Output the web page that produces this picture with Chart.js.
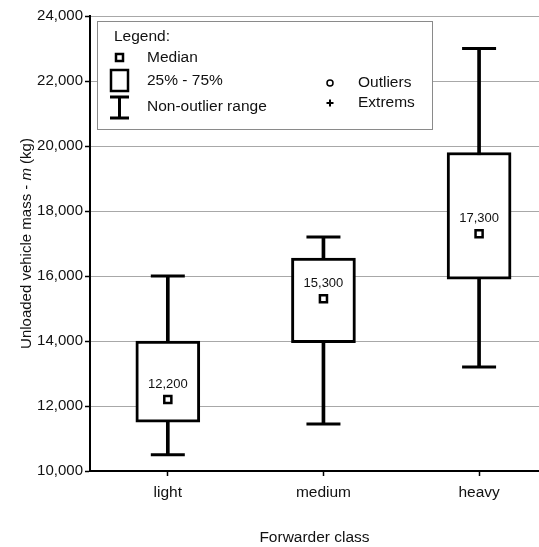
<!DOCTYPE html>
<html>
<head>
<meta charset="utf-8">
<script src="https://cdn.jsdelivr.net/npm/chart.js@4.4.0/dist/chart.umd.min.js"></script>
<style>
  html, body { margin: 0; padding: 0; background: #fff; }
  #wrap { width: 539px; height: 547px; position: relative; }
</style>
</head>
<body>
<div id="wrap"><canvas id="boxChart"></canvas></div>
<script>
// Forwarder classes and box plot statistics (kg)
const categories = ['light', 'medium', 'heavy'];
const whiskerLow = [10500, 11450, 13200];
const quartile1 = [11500, 13950, 15900];
const medians = [12200, 15300, 17300];
const quartile3 = [14000, 16550, 19800];
const whiskerHigh = [16000, 17200, 23000];
const yTicks = [10000, 12000, 14000, 16000, 18000, 20000, 22000, 24000];

const FONT = '"Liberation Sans", Arial, Helvetica, sans-serif';
const positions = categories.map((c, i) => i + 1);

function fmt(v) {
    return Number(v).toLocaleString('en-US');
}

// y title (with italic m), legend box and median labels
const extrasPlugin = {
    id: 'extras',
    beforeDatasetsDraw(chart) {
        const ctx = chart.ctx;
        const area = chart.chartArea;
        const bx = area.left + 7, by = area.top + 5;

        ctx.save();
        ctx.fillStyle = '#fff';
        ctx.fillRect(bx, by, 335, 108);
        ctx.strokeStyle = '#8a8a8a';
        ctx.lineWidth = 1;
        ctx.strokeRect(bx + 0.5, by + 0.5, 335, 108);

        ctx.fillStyle = '#111';
        ctx.font = '15.5px ' + FONT;
        ctx.textBaseline = 'middle';
        ctx.textAlign = 'left';
        ctx.fillText('Legend:', bx + 17, by + 16);
        ctx.fillText('Median', bx + 50, by + 37);
        ctx.fillText('25% - 75%', bx + 50, by + 60);
        ctx.fillText('Non-outlier range', bx + 50, by + 86);
        ctx.fillText('Outliers', bx + 261, by + 62);
        ctx.fillText('Extrems', bx + 261, by + 82);

        const ix = bx + 22.5;
        ctx.strokeStyle = '#000';
        // median icon
        ctx.lineWidth = 2.5;
        ctx.strokeRect(ix - 3.5, by + 33, 7, 7);
        // box icon
        ctx.lineWidth = 2.5;
        ctx.strokeRect(ix - 8.5, by + 49, 17, 21);
        // whisker icon
        ctx.lineWidth = 3;
        ctx.beginPath();
        ctx.moveTo(ix - 9.5, by + 76); ctx.lineTo(ix + 9.5, by + 76);
        ctx.moveTo(ix, by + 76); ctx.lineTo(ix, by + 97);
        ctx.moveTo(ix - 9.5, by + 97); ctx.lineTo(ix + 9.5, by + 97);
        ctx.stroke();
        // outlier / extreme icons
        ctx.lineWidth = 1.5;
        ctx.beginPath();
        ctx.arc(bx + 233, by + 62, 3, 0, Math.PI * 2);
        ctx.stroke();
        ctx.lineWidth = 2;
        ctx.beginPath();
        ctx.moveTo(bx + 229.5, by + 82); ctx.lineTo(bx + 236.5, by + 82);
        ctx.moveTo(bx + 233, by + 78.5); ctx.lineTo(bx + 233, by + 85.5);
        ctx.stroke();
        ctx.restore();
    },
    afterDatasetsDraw(chart) {
        const ctx = chart.ctx;
        const xs = chart.scales.x, ys = chart.scales.y;
        ctx.save();
        ctx.fillStyle = '#111';
        ctx.font = '13px ' + FONT;
        ctx.textAlign = 'center';
        ctx.textBaseline = 'middle';
        medians.forEach((m, i) => {
            ctx.fillText(fmt(m), xs.getPixelForValue(positions[i]), ys.getPixelForValue(m) - 15);
        });
        ctx.restore();
    },
    afterDraw(chart) {
        const ctx = chart.ctx;
        const area = chart.chartArea;
        const parts = [['Unloaded vehicle mass - ', ''], ['m', 'italic '], [' (kg)', '']];
        ctx.save();
        ctx.translate(27, (area.top + area.bottom) / 2);
        ctx.rotate(-Math.PI / 2);
        ctx.fillStyle = '#111';
        ctx.textBaseline = 'middle';
        ctx.textAlign = 'left';
        let total = 0;
        parts.forEach(p => {
            ctx.font = p[1] + '15px ' + FONT;
            total += ctx.measureText(p[0]).width;
        });
        let x = -total / 2;
        parts.forEach(p => {
            ctx.font = p[1] + '15px ' + FONT;
            ctx.fillText(p[0], x, 0);
            x += ctx.measureText(p[0]).width;
        });
        ctx.restore();
    }
};

const ctx = document.getElementById('boxChart').getContext('2d');

new Chart(ctx, {
    type: 'bar',
    data: {
        datasets: [
            {
                label: 'Non-outlier range',
                data: positions.map((x, i) => ({ x: x, y: [whiskerLow[i], whiskerHigh[i]] })),
                backgroundColor: '#000',
                borderWidth: 0,
                barThickness: 3,
                grouped: false,
                order: 3
            },
            {
                label: '25% - 75%',
                data: positions.map((x, i) => ({ x: x, y: [quartile1[i], quartile3[i]] })),
                backgroundColor: '#fff',
                borderColor: '#000',
                borderWidth: 3,
                borderSkipped: false,
                barThickness: 64,
                grouped: false,
                order: 2
            },
            {
                type: 'scatter',
                label: 'Upper whisker',
                data: positions.map((x, i) => ({ x: x, y: whiskerHigh[i] })),
                pointStyle: 'line',
                pointRadius: 17,
                pointBorderColor: '#000',
                pointBorderWidth: 3,
                order: 1
            },
            {
                type: 'scatter',
                label: 'Lower whisker',
                data: positions.map((x, i) => ({ x: x, y: whiskerLow[i] })),
                pointStyle: 'line',
                pointRadius: 17,
                pointBorderColor: '#000',
                pointBorderWidth: 3,
                order: 1
            },
            {
                type: 'scatter',
                label: 'Median',
                data: positions.map((x, i) => ({ x: x, y: medians[i] })),
                pointStyle: 'rect',
                pointRadius: 5,
                pointBackgroundColor: '#fff',
                pointBorderColor: '#000',
                pointBorderWidth: 2.5,
                order: 0
            }
        ]
    },
    options: {
        responsive: true,
        maintainAspectRatio: false,
        animation: false,
        devicePixelRatio: 1,
        layout: { autoPadding: false, padding: { top: 16, right: 0, bottom: 0, left: 0 } },
        plugins: {
            legend: { display: false },
            tooltip: { enabled: false }
        },
        scales: {
            x: {
                type: 'linear',
                offset: false,
                min: 0.5,
                max: 3.385,
                afterBuildTicks: (s) => { s.ticks = positions.map(v => ({ value: v })); },
                afterFit: (s) => { s.height = 76; s.paddingRight = 0; s.paddingLeft = 0; },
                ticks: {
                    callback: (v) => categories[v - 1] || '',
                    color: '#111',
                    font: { family: FONT, size: 15.5 },
                    padding: 7,
                    autoSkip: false,
                    maxRotation: 0
                },
                grid: {
                    offset: false,
                    drawOnChartArea: false,
                    tickLength: 5,
                    tickColor: '#000',
                    tickWidth: 1.5
                },
                border: { display: true, color: '#000', width: 2 },
                title: {
                    display: true,
                    text: 'Forwarder class',
                    color: '#111',
                    font: { family: FONT, size: 15.5 },
                    padding: { top: 0, bottom: 0 }
                }
            },
            y: {
                min: 10000,
                max: 24000,
                afterBuildTicks: (s) => { s.ticks = yTicks.map(v => ({ value: v })); },
                afterFit: (s) => { s.width = 90; },
                ticks: {
                    callback: (v) => fmt(v),
                    color: '#111',
                    font: { family: FONT, size: 15 },
                    padding: 2
                },
                grid: {
                    color: '#a8a8a8',
                    lineWidth: 1,
                    tickLength: 5,
                    tickColor: '#000',
                    tickWidth: 1.5
                },
                border: { display: true, color: '#000', width: 2 }
            }
        }
    },
    plugins: [extrasPlugin]
});
</script>
</body>
</html>
